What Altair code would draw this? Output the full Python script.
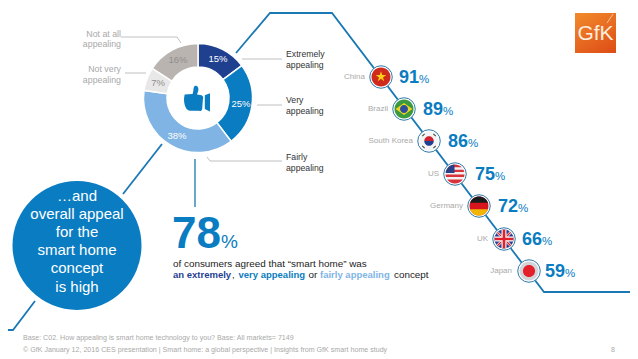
import math
import altair as alt
import pandas as pd

# ---- donut values
SEG_LABELS = ["Extremely appealing", "Very appealing", "Fairly appealing", "Not very appealing", "Not at all appealing"]
SEG_VALUES = [15, 25, 38, 7, 16]
SEG_COLORS = ["#1f3f8f", "#0a7cc1", "#7fb4e4", "#e9e8e8", "#b9b4b0"]
PCT_TEXT = ["15%", "25%", "38%", "7%", "16%"]
PCT_X = [218, 241, 177, 158, 178]
PCT_Y = [59, 104, 136, 83, 60]
PCT_COL = ["#ffffff", "#ffffff", "#ffffff", "#8f8f8f", "#8f8f8f"]

# ---- country values
COUNTRIES = ["China", "Brazil", "South Korea", "US", "Germany", "UK", "Japan"]
COUNTRY_PCT = [91, 89, 86, 75, 72, 66, 59]
FLAG_X = [381, 404, 429, 455, 479, 504, 529]
FLAG_Y = [77, 109, 141, 174, 206, 239, 271]
NAME_X = [365, 388, 413, 439, 463, 488, 512]
NUM_X = [399, 423, 448, 475, 498, 522, 545]

BLUE = "#0a7cc1"
LINE = "#1a78b4"
GREY = "#a9a9a9"

X = alt.Scale(domain=[8, 630], range=[0, 622], nice=False, zero=False)
Y = alt.Scale(domain=[8, 359], range=[0, 351], nice=False, zero=False)


def xe(f="x"):
    return alt.X(f"{f}:Q", scale=X, axis=None)


def ye(f="y"):
    return alt.Y(f"{f}:Q", scale=Y, axis=None)


def path(xs, ys, color, width):
    df = pd.DataFrame({"x": xs, "y": ys, "o": range(len(xs))})
    return alt.Chart(df).mark_line(color=color, strokeWidth=width, clip=False, interpolate="linear",
                                   strokeCap="butt", strokeJoin="miter").encode(x=xe(), y=ye(), order="o:Q")


def txt(rows, size, color="#222222", align="left", bold=False, font="Liberation Sans", baseline="middle"):
    df = pd.DataFrame(rows, columns=["x", "y", "t"])
    kw = {"fontWeight": "bold"} if bold else {}
    return alt.Chart(df).mark_text(fontSize=size, color=color, align=align, baseline=baseline, font=font, **kw).encode(
        x=xe(), y=ye(), text="t:N")


layers = []

# connector lines
layers.append(path([236, 270, 332, 544, 638], [53, 13, 13, 292, 292], LINE, 1.8))
layers.append(path([162, 123], [144, 194], LINE, 1.8))
layers.append(path([35, 13, 0], [301, 330, 330], LINE, 1.8))
layers.append(path([195, 195], [159, 207], LINE, 1.3))

# grey leader lines
LEADERS = [
    ([121, 177, 181], [37, 37, 43]),
    ([125, 146], [73, 73]),
    ([242, 282], [59, 59]),
    ([257, 282], [105, 105]),
    ([207, 210, 282], [157, 161, 161]),
]
for lx, ly in LEADERS:
    layers.append(path(lx, ly, "#b0b0b0", 0.8))

# donut
donut = pd.DataFrame({"label": SEG_LABELS, "v": SEG_VALUES, "c": SEG_COLORS, "o": range(5), "x": 198, "y": 98})
layers.append(
    alt.Chart(donut).mark_arc(outerRadius=54.5, innerRadius=31, stroke="#ffffff", strokeWidth=1.5).encode(
        theta=alt.Theta("v:Q", stack=True, scale=alt.Scale(domain=[0, sum(SEG_VALUES)], range=[0, 2 * math.pi])),
        order=alt.Order("o:Q"),
        color=alt.Color("c:N", scale=None),
        x=xe(), y=ye(),
    )
)
pct = pd.DataFrame({"x": PCT_X, "y": PCT_Y, "t": PCT_TEXT, "c": PCT_COL})
layers.append(
    alt.Chart(pct).mark_text(fontSize=9.5, font="Liberation Sans").encode(
        x=xe(), y=ye(), text="t:N", color=alt.Color("c:N", scale=None))
)

# thumb icon
THUMB = ("M-0.95 -0.3 L-0.35 -0.35 C-0.25 -0.5 -0.3 -0.85 -0.2 -0.95 C0 -1.05 0.15 -0.85 0.1 -0.6 L0 -0.3 L0.35 -0.25 "
         "C0.5 -0.2 0.5 -0.05 0.45 0.1 L0.4 0.8 C0.35 1 0.2 0.95 0.1 0.95 L-0.5 0.95 C-0.85 0.95 -1 0.5 -1 0 Z "
         "M0.6 -0.25 L1 -0.4 L1 1 L0.6 0.8 Z")
layers.append(
    alt.Chart(pd.DataFrame({"x": [197], "y": [98.5]})).mark_point(
        shape=THUMB, size=676, filled=True, opacity=1, color=BLUE, strokeWidth=0).encode(x=xe(), y=ye())
)

# donut labels
layers.append(txt([(286, 54, "Extremely"), (286, 65, "appealing"), (286, 100, "Very"), (286, 111, "appealing"),
                   (286, 157, "Fairly"), (286, 168, "appealing")], 8.7, "#333333"))
layers.append(txt([(121, 34, "Not at all"), (121, 44, "appealing"), (121, 69, "Not very"), (121, 80, "appealing")],
                  8.8, GREY, align="right"))

# big circle
layers.append(
    alt.Chart(pd.DataFrame({"x": [77], "y": [245.5]})).mark_point(
        shape="circle", size=129 ** 2, filled=True, opacity=1, color=BLUE, strokeWidth=0).encode(
        x=xe(), y=ye())
)
layers.append(txt([(77, 196, "…and"), (77, 214, "overall appeal"), (77, 232, "for the"), (77, 250, "smart home"),
                   (77, 268, "concept"), (77, 287, "is high")], 15, "#ffffff", align="center"))

# 78 %
layers.append(txt([(172, 248, "78")], 44, BLUE, bold=True, baseline="alphabetic"))
layers.append(txt([(221, 248, "%")], 19, BLUE, baseline="alphabetic"))
layers.append(txt([(173, 264, "of consumers agreed that “smart home” was")], 9.9))
layers.append(txt([(173, 275, "an extremely")], 9.5, "#1f3f8f", bold=True))
layers.append(txt([(232, 275, ",")], 9.5))
layers.append(txt([(238.5, 275, "very appealing")], 9.5, BLUE, bold=True))
layers.append(txt([(308.5, 275, "or")], 9.9))
layers.append(txt([(320, 275, "fairly appealing")], 9.5, "#7fb4e4", bold=True))
layers.append(txt([(394, 275, "concept")], 9.9))

# footer
layers.append(txt([(23, 338, "Base: C02. How appealing is smart home technology to you? Base: All markets= 7149"),
                   (23, 350, "© GfK January 12, 2016 CES presentation | Smart home: a global perspective | Insights from GfK smart home study")],
                  7.1, GREY))
layers.append(txt([(613, 350, "8")], 7, GREY, align="center"))


# flags: every part is a unit-square symbol placed on the flag centre
def seg(y0, y1):
    if y0 <= -1:
        a = math.sqrt(1 - y1 * y1)
        return f"M{-a:.3f} {y1} A1 1 0 0 1 {a:.3f} {y1} Z"
    if y1 >= 1:
        a = math.sqrt(1 - y0 * y0)
        return f"M{a:.3f} {y0} A1 1 0 0 1 {-a:.3f} {y0} Z"
    a0, a1 = math.sqrt(1 - y0 * y0), math.sqrt(1 - y1 * y1)
    l = [(-a0, y0), (a0, y0), (a1, y1), (-a1, y1)]
    return (f"M{l[0][0]:.3f} {l[0][1]} L{l[1][0]:.3f} {l[1][1]} A1 1 0 0 1 {l[2][0]:.3f} {l[2][1]} "
            f"L{l[3][0]:.3f} {l[3][1]} A1 1 0 0 1 {l[0][0]:.3f} {l[0][1]} Z")


def disc(r, cx=0.0, cy=0.0):
    return f"M{cx - r} {cy} A{r} {r} 0 1 1 {cx + r} {cy} A{r} {r} 0 1 1 {cx - r} {cy} Z"


FULL = disc(1)
STAR = ("M0 -0.6 L0.13 -0.21 L0.55 -0.21 L0.21 0.04 L0.34 0.44 L0 0.19 L-0.34 0.44 L-0.21 0.04 L-0.55 -0.21 L-0.13 -0.21 Z")
DIAMOND = "M-0.88 0 L0 -0.62 L0.88 0 L0 0.62 Z"
KOREA_TOP = "M-0.5 0 A0.5 0.5 0 0 1 0.5 0 Z"
KOREA_BOT = "M0.5 0 A0.5 0.5 0 0 1 -0.5 0 Z"
KOREA_BARS = ("M-0.75 -0.55 L-0.5 -0.8 L-0.42 -0.72 L-0.67 -0.47 Z M0.75 -0.55 L0.5 -0.8 L0.42 -0.72 L0.67 -0.47 Z "
              "M-0.75 0.55 L-0.5 0.8 L-0.42 0.72 L-0.67 0.47 Z M0.75 0.55 L0.5 0.8 L0.42 0.72 L0.67 0.47 Z")
CANTON = "M-0.05 -0.1 L-0.995 -0.1 A1 1 0 0 1 -0.05 -0.999 Z"
CROSS_W = "M-0.26 -0.96 L0.26 -0.96 L0.26 -0.26 L0.96 -0.26 L0.96 0.26 L0.26 0.26 L0.26 0.96 L-0.26 0.96 L-0.26 0.26 L-0.96 0.26 L-0.96 -0.26 L-0.26 -0.26 Z"
CROSS_R = "M-0.14 -0.98 L0.14 -0.98 L0.14 -0.14 L0.98 -0.14 L0.98 0.14 L0.14 0.14 L0.14 0.98 L-0.14 0.98 L-0.14 0.14 L-0.98 0.14 L-0.98 -0.14 L-0.14 -0.14 Z"
DIAG_W = "M-0.8 -0.6 L-0.6 -0.8 L0.8 0.6 L0.6 0.8 Z M0.8 -0.6 L0.6 -0.8 L-0.8 0.6 L-0.6 0.8 Z"
DIAG_R = "M-0.75 -0.65 L-0.65 -0.75 L0.75 0.65 L0.65 0.75 Z M0.75 -0.65 L0.65 -0.75 L-0.75 0.65 L-0.65 0.75 Z"

FLAG_PARTS = [
    (0, FULL, "#cf2a1c"), (0, STAR, "#f7d117"),
    (1, FULL, "#3c9a3e"), (1, DIAMOND, "#efd420"), (1, disc(0.42), "#2d4f9e"),
    (2, FULL, "#f4f4f4"), (2, KOREA_TOP, "#d0202e"), (2, KOREA_BOT, "#1f3f8f"), (2, KOREA_BARS, "#444444"),
    (3, FULL, "#f5f0f0"), (3, seg(-1, -0.72), "#d8323c"), (3, seg(-0.46, -0.2), "#d8323c"),
    (3, seg(0.06, 0.32), "#d8323c"), (3, seg(0.58, 1), "#d8323c"), (3, CANTON, "#2b3f86"),
    (4, FULL, "#d8141c"), (4, seg(-1, -0.33), "#1a1a1a"), (4, seg(0.33, 1), "#f2b705"),
    (5, FULL, "#2a3f8c"), (5, DIAG_W, "#ffffff"), (5, DIAG_R, "#e0202a"), (5, CROSS_W, "#ffffff"), (5, CROSS_R, "#e0202a"),
    (6, FULL, "#d3d3da"), (6, disc(0.64), "#e3202a"),
]

badge = pd.DataFrame({"x": FLAG_X, "y": FLAG_Y})
layers.append(alt.Chart(badge).mark_point(shape="circle", size=22.5 ** 2, filled=True, opacity=1,
                                          fill="#ffffff", stroke="#2f7aa8", strokeWidth=1).encode(x=xe(), y=ye()))
parts = pd.DataFrame([{"x": FLAG_X[i], "y": FLAG_Y[i], "s": s, "c": c} for i, s, c in FLAG_PARTS])
layers.append(alt.Chart(parts).mark_point(size=361, filled=True, opacity=1, strokeWidth=0).encode(
    x=xe(), y=ye(), shape=alt.Shape("s:N", scale=None), color=alt.Color("c:N", scale=None)))

# country names and percentages
layers.append(txt([(a, b, c) for a, b, c in zip(NAME_X, FLAG_Y, COUNTRIES)], 8, GREY, align="right"))
layers.append(txt([(a, b + 6, str(c)) for a, b, c in zip(NUM_X, FLAG_Y, COUNTRY_PCT)], 18, BLUE, bold=True,
                  baseline="alphabetic"))
layers.append(txt([(a + 20, b + 6, "%") for a, b in zip(NUM_X, FLAG_Y)], 11.5, BLUE, baseline="alphabetic"))

# logo
logo = pd.DataFrame({"x": [575], "x2": [616], "y": [13], "y2": [53]})
layers.append(alt.Chart(logo).mark_rect(
    color=alt.Gradient(gradient="linear", x1=0.2, y1=0, x2=0.8, y2=1,
                       stops=[alt.GradientStop(color="#f0862a", offset=0), alt.GradientStop(color="#df5018", offset=1)])
).encode(x=xe(), x2="x2:Q", y=ye(), y2="y2:Q"))
layers.append(txt([(595.5, 34, "GfK")], 21, "#fdeedd", align="center"))
layers.append(path([613, 607], [14, 23], "#f8d9b8", 0.8))

chart = alt.layer(*layers).properties(
    width=622, height=351, padding=0, background="#ffffff",
    autosize=alt.AutoSizeParams(type="none"),
).configure_view(stroke=None)

chart.save("out.html", embed_options={"renderer": "svg", "actions": False})
